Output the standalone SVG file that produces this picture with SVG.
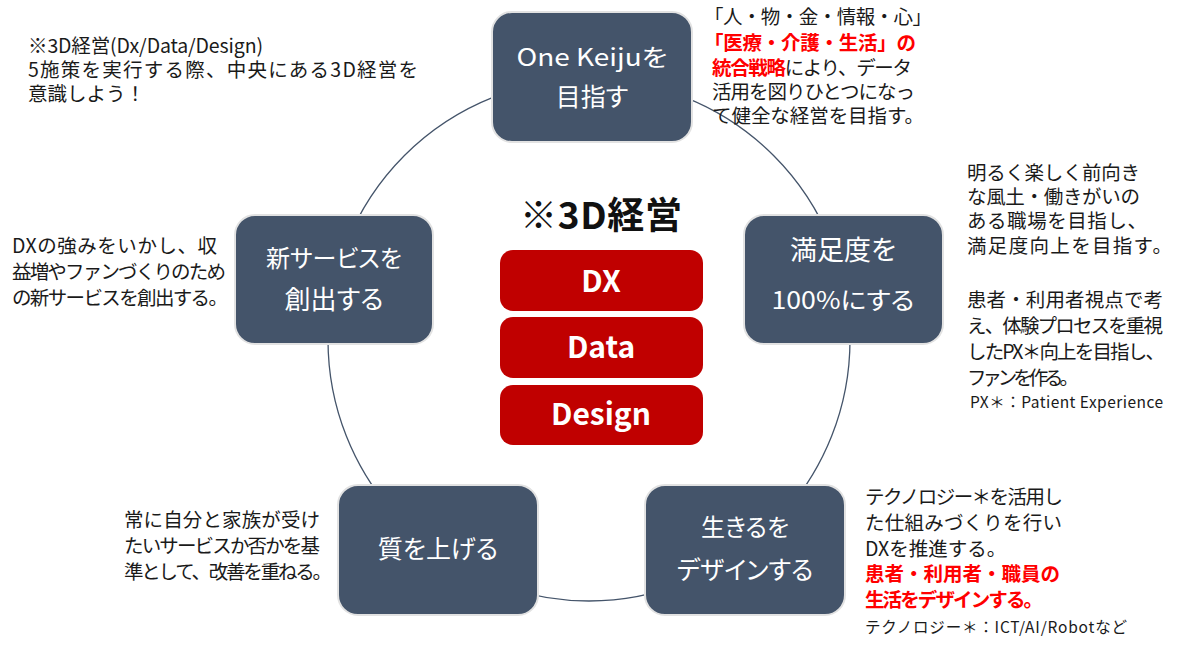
<svg xmlns="http://www.w3.org/2000/svg" width="1180" height="645" viewBox="0 0 1180 645">
<style>
.node rect{fill:#44546A;stroke:#E2E2E2;stroke-width:2}
.nt{font-family:"Noto Sans CJK JP","Noto Sans",sans-serif;font-size:24px;fill:#FFFFFF;text-anchor:middle;font-feature-settings:"palt"}
.d{font-family:"Noto Sans CJK JP","Noto Sans",sans-serif;font-size:19.5px;fill:#1A1A1A}
.sm{font-size:15.5px}
.red{fill:#FF0000;font-weight:bold}
.ctr rect{fill:#C00000}
.ct{font-family:"Noto Sans CJK JP","Noto Sans",sans-serif;font-size:30px;font-weight:bold;fill:#FFFFFF;text-anchor:middle}
.title{font-family:"Noto Sans CJK JP","Noto Sans",sans-serif;font-size:37px;font-weight:bold;fill:#111;text-anchor:middle}
</style>
<rect width="1180" height="645" fill="#FFFFFF"/>
<g id="connectors">
<circle cx="589" cy="340" r="261" fill="none" stroke="#44546A" stroke-width="1.3"/>
</g>
<g id="node-top" class="node">
<rect x="492" y="12" width="200" height="130" rx="20"/>
<text class="nt" x="592" y="66" textLength="151" lengthAdjust="spacingAndGlyphs">One Keijuを</text>
<text class="nt" x="592" y="106" style="font-size:25px">目指す</text>
</g>
<g id="node-right" class="node">
<rect x="744" y="215" width="199" height="129" rx="20"/>
<text class="nt" x="843" y="260" style="font-size:27px">満足度を</text>
<text class="nt" x="843" y="309" textLength="143" lengthAdjust="spacingAndGlyphs">100%にする</text>
</g>
<g id="node-left" class="node">
<rect x="235" y="215" width="198" height="129" rx="20"/>
<text class="nt" x="334" y="267">新サービスを</text>
<text class="nt" x="334" y="309" style="font-size:26px">創出する</text>
</g>
<g id="node-bottom-left" class="node">
<rect x="338" y="485" width="200" height="130" rx="20"/>
<text class="nt" x="438" y="558" style="font-size:25px">質を上げる</text>
</g>
<g id="node-bottom-right" class="node">
<rect x="645" y="485" width="200" height="130" rx="20"/>
<text class="nt" x="745" y="536">生きるを</text>
<text class="nt" x="745" y="579" style="font-size:25px">デザインする</text>
</g>
<g id="center">
<text class="title" x="601" y="229" textLength="162">※3D経営</text>
<g class="ctr">
<rect x="500" y="250" width="203" height="61" rx="13"/>
<rect x="500" y="317" width="203" height="61" rx="13"/>
<rect x="500" y="385" width="203" height="60" rx="13"/>
</g>
<text class="ct" x="601" y="292">DX</text>
<text class="ct" x="601" y="358">Data</text>
<text class="ct" x="601" y="425">Design</text>
</g>
<g id="note-top-left" class="d">
<text x="28" y="53" textLength="235">※3D経営(Dx/Data/Design)</text>
<text x="28" y="77" textLength="390">5施策を実行する際、中央にある3D経営を</text>
<text x="28" y="101">意識しよう！</text>
</g>
<g id="note-top-right" class="d">
<text x="704" y="24" textLength="228">「人・物・金・情報・心」</text>
<text x="704" y="50" class="red" textLength="212">「医療・介護・生活」の</text>
<text x="712" y="75" textLength="200"><tspan class="red">統合戦略</tspan>により、データ</text>
<text x="712" y="99" textLength="203">活用を図りひとつになっ</text>
<text x="712" y="123" textLength="212">て健全な経営を目指す。</text>
</g>
<g id="note-right" class="d">
<text x="967" y="180" textLength="173">明るく楽しく前向き</text>
<text x="967" y="204" textLength="173">な風土・働きがいの</text>
<text x="967" y="228" textLength="180">ある職場を目指し、</text>
<text x="967" y="253" textLength="205">満足度向上を目指す。</text>
<text x="967" y="307" textLength="196">患者・利用者視点で考</text>
<text x="967" y="333" textLength="196">え、体験プロセスを重視</text>
<text x="967" y="359" textLength="198">したPX＊向上を目指し、</text>
<text x="967" y="385" textLength="112">ファンを作る。</text>
<text x="970" y="408" class="sm" textLength="193">PX＊：Patient Experience</text>
</g>
<g id="note-left" class="d">
<text x="12" y="253" textLength="205">DXの強みをいかし、収</text>
<text x="12" y="279" textLength="214">益増やファンづくりのため</text>
<text x="12" y="305" textLength="216">の新サービスを創出する。</text>
</g>
<g id="note-bottom-left" class="d">
<text x="124" y="527" textLength="196">常に自分と家族が受け</text>
<text x="124" y="553" textLength="196">たいサービスか否かを基</text>
<text x="124" y="579" textLength="208">準として、改善を重ねる。</text>
</g>
<g id="note-bottom-right" class="d">
<text x="865" y="504" textLength="198">テクノロジー＊を活用し</text>
<text x="865" y="530" textLength="197">た仕組みづくりを行い</text>
<text x="865" y="556">DXを推進する。</text>
<text x="865" y="581" class="red" textLength="195">患者・利用者・職員の</text>
<text x="865" y="607" class="red" textLength="178">生活をデザインする。</text>
<text x="865" y="633" class="sm" textLength="262">テクノロジー＊：ICT/AI/Robotなど</text>
</g>
</svg>
